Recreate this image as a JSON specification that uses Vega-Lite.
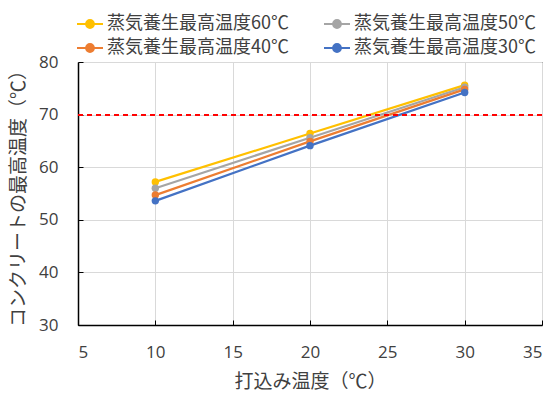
{
  "$schema": "https://vega.github.io/schema/vega-lite/v6.json",
  "width": 464,
  "height": 263,
  "autosize": {"type": "none"},
  "padding": {"left": 78, "top": 62, "right": 16, "bottom": 69},
  "background": "white",
  "config": {
    "view": {"stroke": "#000000", "strokeWidth": 1},
    "axis": {"domainColor": "#000000", "tickColor": "#000000", "gridColor": "#D9D9D9", "labelColor": "#404040", "titleColor": "#404040", "labelFont": "Open Sans", "labelFontSize": 17, "titleFont": "Noto Sans CJK JP", "titleFontSize": 19, "titleFontWeight": "normal"}
  },
  "data": {"values": [
    {"series": "蒸気養生最高温度60℃", "x": 10, "y": 57.2},
    {"series": "蒸気養生最高温度60℃", "x": 20, "y": 66.4},
    {"series": "蒸気養生最高温度60℃", "x": 30, "y": 75.6},
    {"series": "蒸気養生最高温度50℃", "x": 10, "y": 56.0},
    {"series": "蒸気養生最高温度50℃", "x": 20, "y": 65.6},
    {"series": "蒸気養生最高温度50℃", "x": 30, "y": 75.2},
    {"series": "蒸気養生最高温度40℃", "x": 10, "y": 54.7},
    {"series": "蒸気養生最高温度40℃", "x": 20, "y": 64.9},
    {"series": "蒸気養生最高温度40℃", "x": 30, "y": 74.8},
    {"series": "蒸気養生最高温度30℃", "x": 10, "y": 53.6},
    {"series": "蒸気養生最高温度30℃", "x": 20, "y": 64.1},
    {"series": "蒸気養生最高温度30℃", "x": 30, "y": 74.2}
  ]},
  "layer": [
    {
      "mark": {"type": "line", "strokeWidth": 2.25, "point": {"filled": true, "size": 55, "opacity": 1}},
      "encoding": {
        "x": {"field": "x", "type": "quantitative", "scale": {"domain": [5, 35], "nice": false},
          "axis": {"values": [5, 10, 15, 20, 25, 30, 35], "title": "打込み温度（℃）", "tickSize": -5, "labelPadding": 24, "titlePadding": 12, "domainWidth": 1.5}},
        "y": {"field": "y", "type": "quantitative", "scale": {"domain": [30, 80], "nice": false, "zero": false},
          "axis": {"values": [30, 35, 40, 45, 50, 55, 60, 65, 70, 75, 80], "title": "コンクリートの最高温度（℃）", "tickSize": -5, "labelPadding": 25, "titlePadding": 10,
            "labelExpr": "datum.value % 10 === 0 ? datum.label : ''",
            "gridOpacity": {"condition": {"test": "datum.value % 10 === 0", "value": 1}, "value": 0}, "domainWidth": 1.5}},
        "color": {"field": "series", "type": "nominal",
          "scale": {"domain": ["蒸気養生最高温度60℃", "蒸気養生最高温度50℃", "蒸気養生最高温度40℃", "蒸気養生最高温度30℃"], "range": ["#FFC000", "#A5A5A5", "#ED7D31", "#4472C4"]},
          "legend": {"title": null, "orient": "none", "legendX": -2, "legendY": -52, "columns": 2, "direction": "horizontal", "columnPadding": 31, "rowPadding": 1,
            "labelFont": "Noto Sans CJK JP", "labelFontSize": 18, "labelColor": "#404040", "labelLimit": 300, "labelOffset": 3,
            "symbolType": "M-1,0H1M-0.3,0A0.3,0.3,0,1,0,0.3,0A0.3,0.3,0,1,0,-0.3,0Z", "symbolSize": 676, "symbolStrokeWidth": 2,
            "encode": {"symbols": {"update": {"fill": {"field": "value", "scale": "color"}, "fillOpacity": {"value": 1}}}}}}
      }
    },
    {
      "mark": {"type": "rule", "color": "#FF0000", "strokeDash": [5, 4], "strokeWidth": 1.25},
      "encoding": {"y": {"datum": 70}}
    }
  ]
}
